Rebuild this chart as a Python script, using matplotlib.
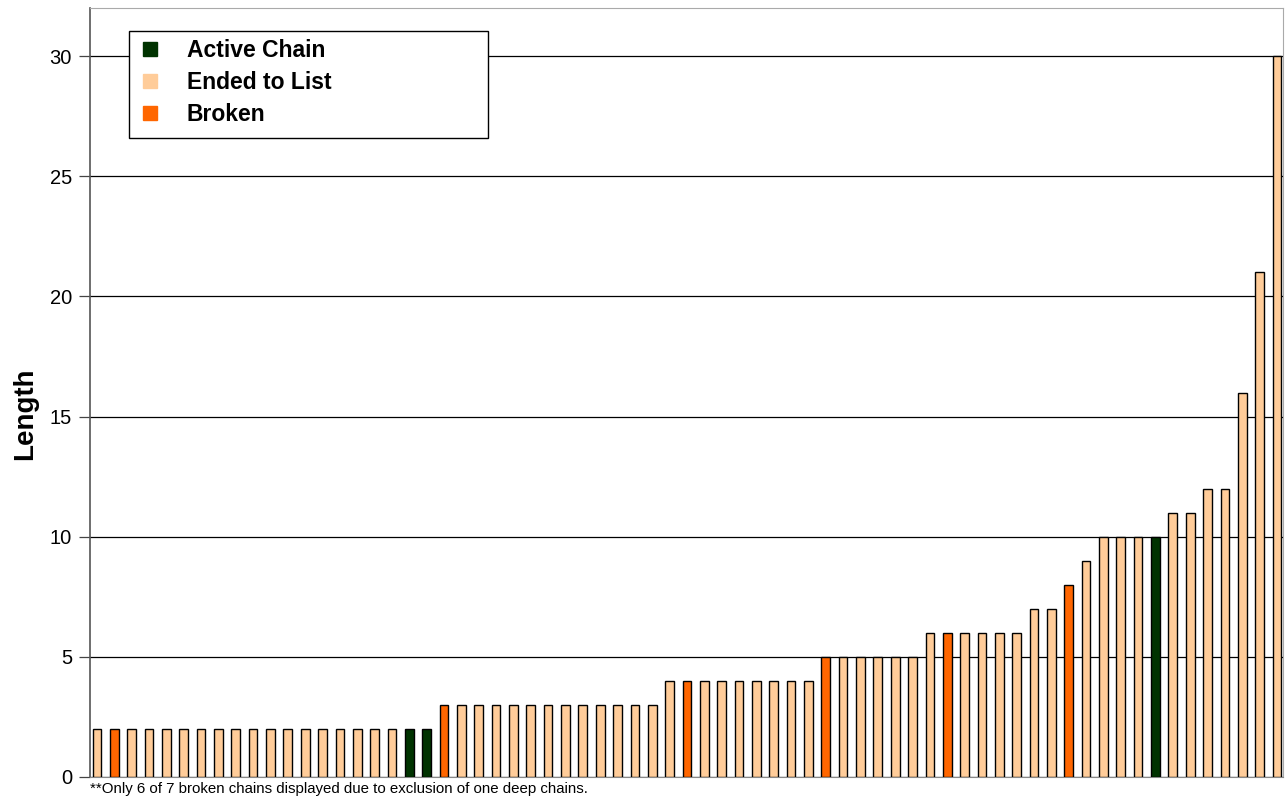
import matplotlib.pyplot as plt
from matplotlib.lines import Line2D
from matplotlib.patches import Rectangle

plt.rcParams['font.family'] = ['Liberation Sans', 'DejaVu Sans']

# chain lengths, sorted, one bar per chain
lengths = [2, 2, 2, 2, 2, 2, 2, 2, 2, 2, 2, 2, 2, 2, 2, 2, 2, 2, 2, 2,
           3, 3, 3, 3, 3, 3, 3, 3, 3, 3, 3, 3, 3,
           4, 4, 4, 4, 4, 4, 4, 4, 4,
           5, 5, 5, 5, 5, 5,
           6, 6, 6, 6, 6, 6,
           7, 7, 8, 9, 10, 10, 10, 10, 11, 11, 12, 12, 16, 21, 30]
# A = active chain, E = ended to list, B = broken
status = list("EBEEEEEEEEEEEEEEEEAA"
              "BEEEEEEEEEEEE"
              "EBEEEEEEE"
              "BEEEEE"
              "EBEEEE"
              "EEBEEEEAEEEEEEE")
labels = {'A': 'Active Chain', 'E': 'Ended to List', 'B': 'Broken'}
colors = {'A': '#003300', 'E': '#FFCC99', 'B': '#FF6600'}
yticks = [0, 5, 10, 15, 20, 25, 30]
note = "**Only 6 of 7 broken chains displayed due to exclusion of one deep chains."

fig = plt.figure(figsize=(12.86, 7.99), dpi=100)
ax = fig.add_axes([90/1286, 1 - 777/799, (1283 - 90)/1286, (777 - 8)/799])

x = range(len(lengths))
ax.bar(x, lengths, width=0.5, color=[colors[s] for s in status],
       edgecolor='black', linewidth=1.0, zorder=3)

ax.set_xlim(-0.4, len(lengths) - 0.65)
ax.set_ylim(0, 32)
ax.set_yticks(yticks)
ax.yaxis.grid(True, color='black', linewidth=0.9)
ax.set_axisbelow(True)
ax.set_xticks([])
ax.tick_params(axis='y', labelsize=14.5, length=8, width=0.9, color='#444444', pad=5)
for side in ['top', 'right']:
    ax.spines[side].set_color('#aaaaaa')
ax.spines['left'].set_color('#555555')
ax.spines['bottom'].set_color('#888888')
ax.spines['left'].set_linewidth(1.2)
ax.set_ylabel('Length', fontsize=20, fontweight='bold')
ax.yaxis.set_label_coords((38 - 90) / 1193, (777 - 414) / 769)

handles = [Line2D([], [], marker='s', linestyle='none', markersize=10.5,
                  markerfacecolor=colors[k], markeredgecolor=colors[k])
           for k in ['A', 'E', 'B']]
leg = fig.legend(handles, [labels[k] for k in ['A', 'E', 'B']],
                 loc='upper left', bbox_to_anchor=(118/1286, 1 - 30/799),
                 frameon=False, prop={'size': 16.5, 'weight': 'bold'},
                 handletextpad=0.6, labelspacing=0.38, borderaxespad=0)
fig.add_artist(Rectangle((129/1286, 1 - 138/799), (488 - 129)/1286, (138 - 31)/799,
                         transform=fig.transFigure, facecolor='white',
                         edgecolor='black', linewidth=1.0, zorder=1))
leg.set_zorder(2)

fig.text(90/1286, 1 - 789/799, note, fontsize=10.8, va='center', ha='left')

fig.savefig('out.png', dpi=100)
